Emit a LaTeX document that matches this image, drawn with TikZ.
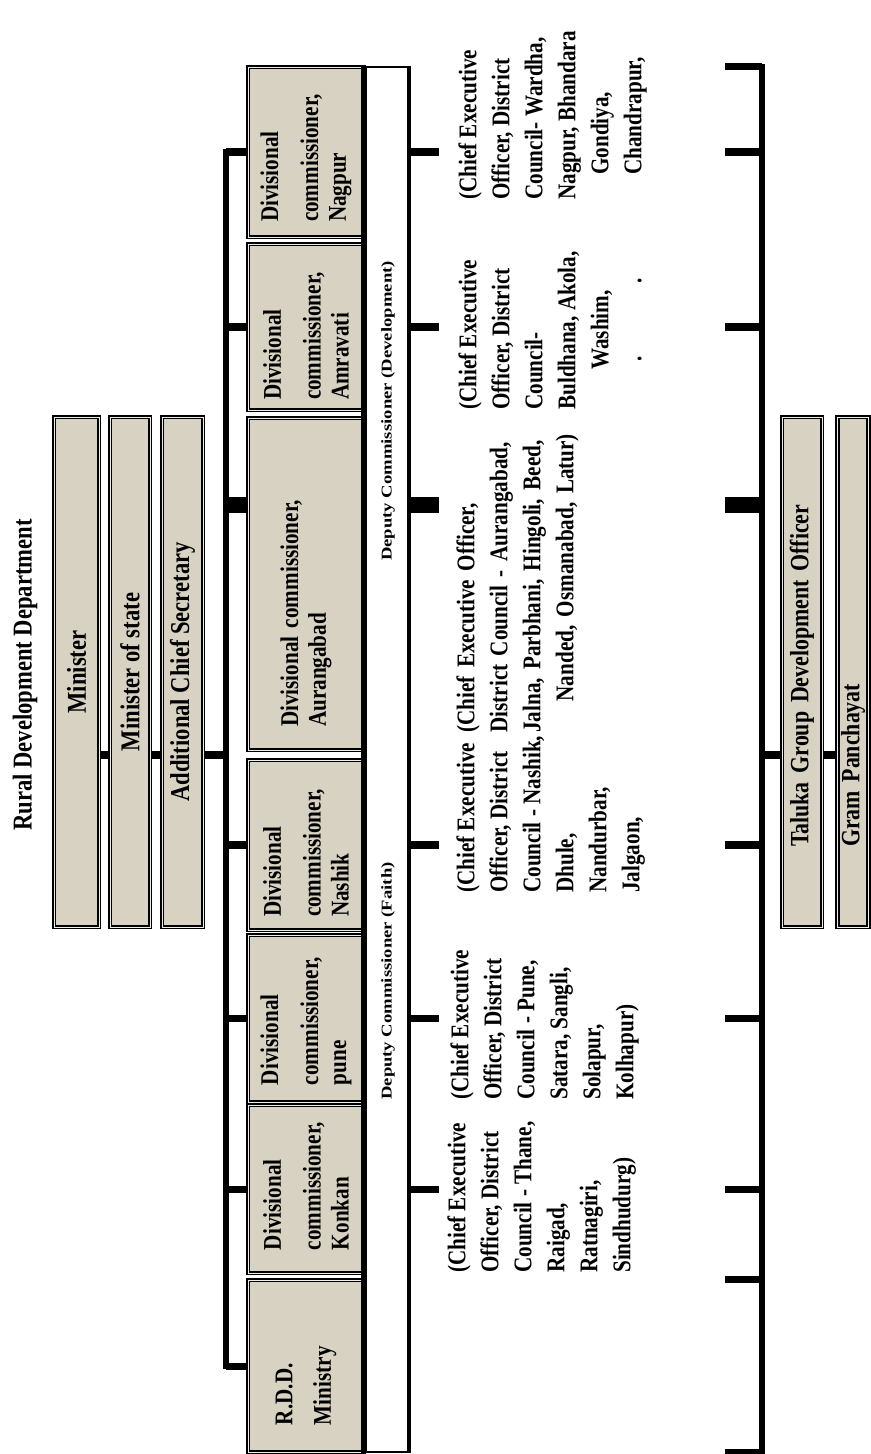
\documentclass[tikz,border=0pt]{standalone}
\usepackage{fontspec}
\newfontfamily\chartfont[FakeStretch=0.83]{Liberation Serif}
\newfontfamily\deputyfont[FakeStretch=1.25]{Liberation Serif}
\definecolor{boxfill}{RGB}{216,210,194}
\newcommand{\fillrow}[1]{\makebox[6.6cm][s]{#1}}

\begin{document}
\begin{tikzpicture}[x=0.02cm, y=-0.02cm,
    kasten/.style={draw=black, line width=0.9pt, double=boxfill!40!white, double distance=0.5pt, fill=boxfill, rotate=90, inner sep=0pt},
    oben/.style={kasten, minimum width=10.2cm, font=\chartfont\bfseries\fontsize{15.5}{18}\selectfont},
    divkasten/.style={kasten, minimum height=2.32cm, align=left, font=\chartfont\bfseries\fontsize{14.5}{15.9}\selectfont},
    unten/.style={kasten, minimum width=10.2cm, text width=7cm, align=left, font=\chartfont\bfseries\fontsize{15}{18}\selectfont},
    ceo/.style={rotate=90, anchor=north west, align=left, inner sep=0pt, font=\chartfont\bfseries\fontsize{14.5}{18.8}\selectfont},
    stufe/.style={line width=2.9pt, line cap=rect},
    ast/.style={line width=4pt},
    dickast/.style={line width=9pt}]

    \useasboundingbox (0,0) rectangle (870,1454);

    % zeichne Kopf und Ministerium
    \node[rotate=90, inner sep=0pt, font=\chartfont\bfseries\fontsize{15.5}{18}\selectfont] (dept) at (25,675) {Rural Development Department};
    \node[oben, minimum height=0.9cm] (minister) at (76.5,672) {Minister};
    \node[oben, minimum height=0.8cm] (mos) at (130,672) {Minister of state};
    \node[oben, minimum height=0.82cm] (acs) at (182.5,672) {Additional Chief Secretary};

    % zeichne Divisional commissioner
    \node[divkasten, minimum width=3.4cm, text width=2.8cm] (nagpur) at (306,152) {Divisional\\[6.8pt]commissioner,\\Nagpur};
    \node[divkasten, minimum width=3.32cm, text width=2.92cm] (amravati) at (306,327) {Divisional\\[6.8pt]commissioner,\\Amravati};
    \node[divkasten, minimum width=6.64cm, text width=5.72cm] (aurangabad) at (306,584) {Divisional commissioner,\\Aurangabad};
    \node[divkasten, minimum width=3.4cm, text width=2.88cm] (nashik) at (306,845) {Divisional\\[6.8pt]commissioner,\\Nashik};
    \node[divkasten, minimum width=3.34cm, text width=2.66cm] (pune) at (306,1018.5) {Divisional\\[6.8pt]commissioner,\\pune};
    \node[divkasten, minimum width=3.36cm, text width=2.44cm] (konkan) at (306,1189) {Divisional\\[6.8pt]commissioner,\\Konkan};
    \node[divkasten, minimum width=3.44cm, text width=2.36cm] (rddmin) at (306,1366) {R.D.D.\\[6pt]Ministry};

    % zeichne Deputy Commissioner
    \node[draw, line width=0.8pt, fill=white, inner sep=0pt, minimum width=0.86cm, minimum height=27.7cm] (deputy) at (386.5,759.5) {};
    \draw[line width=3.5pt] (deputy.north west) -- (deputy.south west);
    \draw[line width=2.5pt] (deputy.north east) -- (deputy.south east);
    \node[rotate=90, inner sep=0pt, font=\deputyfont\bfseries\fontsize{8.5}{10}\selectfont] (devlabel) at (388,411) {Deputy Commissioner (Development)};
    \node[rotate=90, inner sep=0pt, font=\deputyfont\bfseries\fontsize{8.5}{10}\selectfont] (faithlabel) at (388,981) {Deputy Commissioner (Faith)};

    % zeichne Chief Executive Officer
    \node[ceo] (ceonagpur) at (458,200) {(Chief Executive\\Officer, District\\Council- Wardha,\\Nagpur, Bhandara\\\hspace*{0.5cm}Gondiya,\\\hspace*{0.5cm}Chandrapur,};
    \node[ceo] (ceoamravati) at (458,410) {(Chief Executive\\Officer, District\\Council-\\Buldhana, Akola,\\\hspace*{0.8cm}Washim,\\\hspace*{0.96cm}.\hspace{1.45cm}.};
    \node[ceo, text width=6.6cm, align=center] (ceoaurang) at (456,733) {\fillrow{(Chief Executive Officer,}\\\fillrow{District Council - Aurangabad,}\\\fillrow{Jalna, Parbhani, Hingoli, Beed,}\\Nanded, Osmanabad, Latur)};
    \node[ceo] (ceonashik) at (456,893) {(Chief Executive\\Officer, District\\Council - Nashik,\\Dhule,\\Nandurbar,\\Jalgaon,};
    \node[ceo] (ceopune) at (450,1100) {(Chief Executive\\Officer, District\\Council - Pune,\\Satara, Sangli,\\Solapur,\\Kolhapur)};
    \node[ceo] (ceokonkan) at (447,1273) {(Chief Executive\\Officer, District\\Council - Thane,\\Raigad,\\Ratnagiri,\\Sindhudurg)};

    % zeichne Taluka und Gram Panchayat
    \node[unten, minimum height=0.8cm] (taluka) at (802,672) {Taluka Group Development Officer};
    \node[unten, minimum height=0.62cm] (gram) at (853,672) {Gram Panchayat};

    % Hilfspunkte
    \coordinate (chainrow) at (0,755);
    \coordinate (augrow) at (0,505);
    \coordinate (spinetop) at (226,152);
    \coordinate (bartop) at (762,67);

    % Verbindung Minister -> Klammer
    \draw[ast] (minister.south |- chainrow) -- (mos.north |- chainrow);
    \draw[ast] (mos.south |- chainrow) -- (acs.north |- chainrow);
    \draw[ast] (acs.south |- chainrow) -- (spinetop |- chainrow);

    % linke Klammer
    \draw[stufe] (spinetop) -- (spinetop |- rddmin);
    \foreach \n in {nagpur, amravati, nashik, pune, konkan, rddmin}
        \draw[ast] (spinetop |- \n) -- (\n.north);
    \draw[dickast] (spinetop |- augrow) -- (augrow -| aurangabad.north);

    % Striche am Deputy Commissioner
    \foreach \n in {nagpur, amravati, nashik, pune, konkan}
        \draw[ast] (deputy.east |- \n) -- ++(30,0);
    \draw[dickast] (deputy.east |- augrow) -- ++(30,0);

    % rechte Klammer
    \draw[stufe] (bartop) -- (bartop |- rddmin.west);
    \foreach \n in {nagpur.east, nagpur, amravati, nashik, pune, konkan, rddmin.east, rddmin.west}
        \draw[ast] (bartop |- \n) -- ++(-37,0);
    \draw[dickast] (bartop |- augrow) -- ++(-37,0);
    \draw[ast] (bartop |- chainrow) -- (taluka.north |- chainrow);
    \draw[ast] (taluka.south |- chainrow) -- (gram.north |- chainrow);
\end{tikzpicture}
\end{document}
